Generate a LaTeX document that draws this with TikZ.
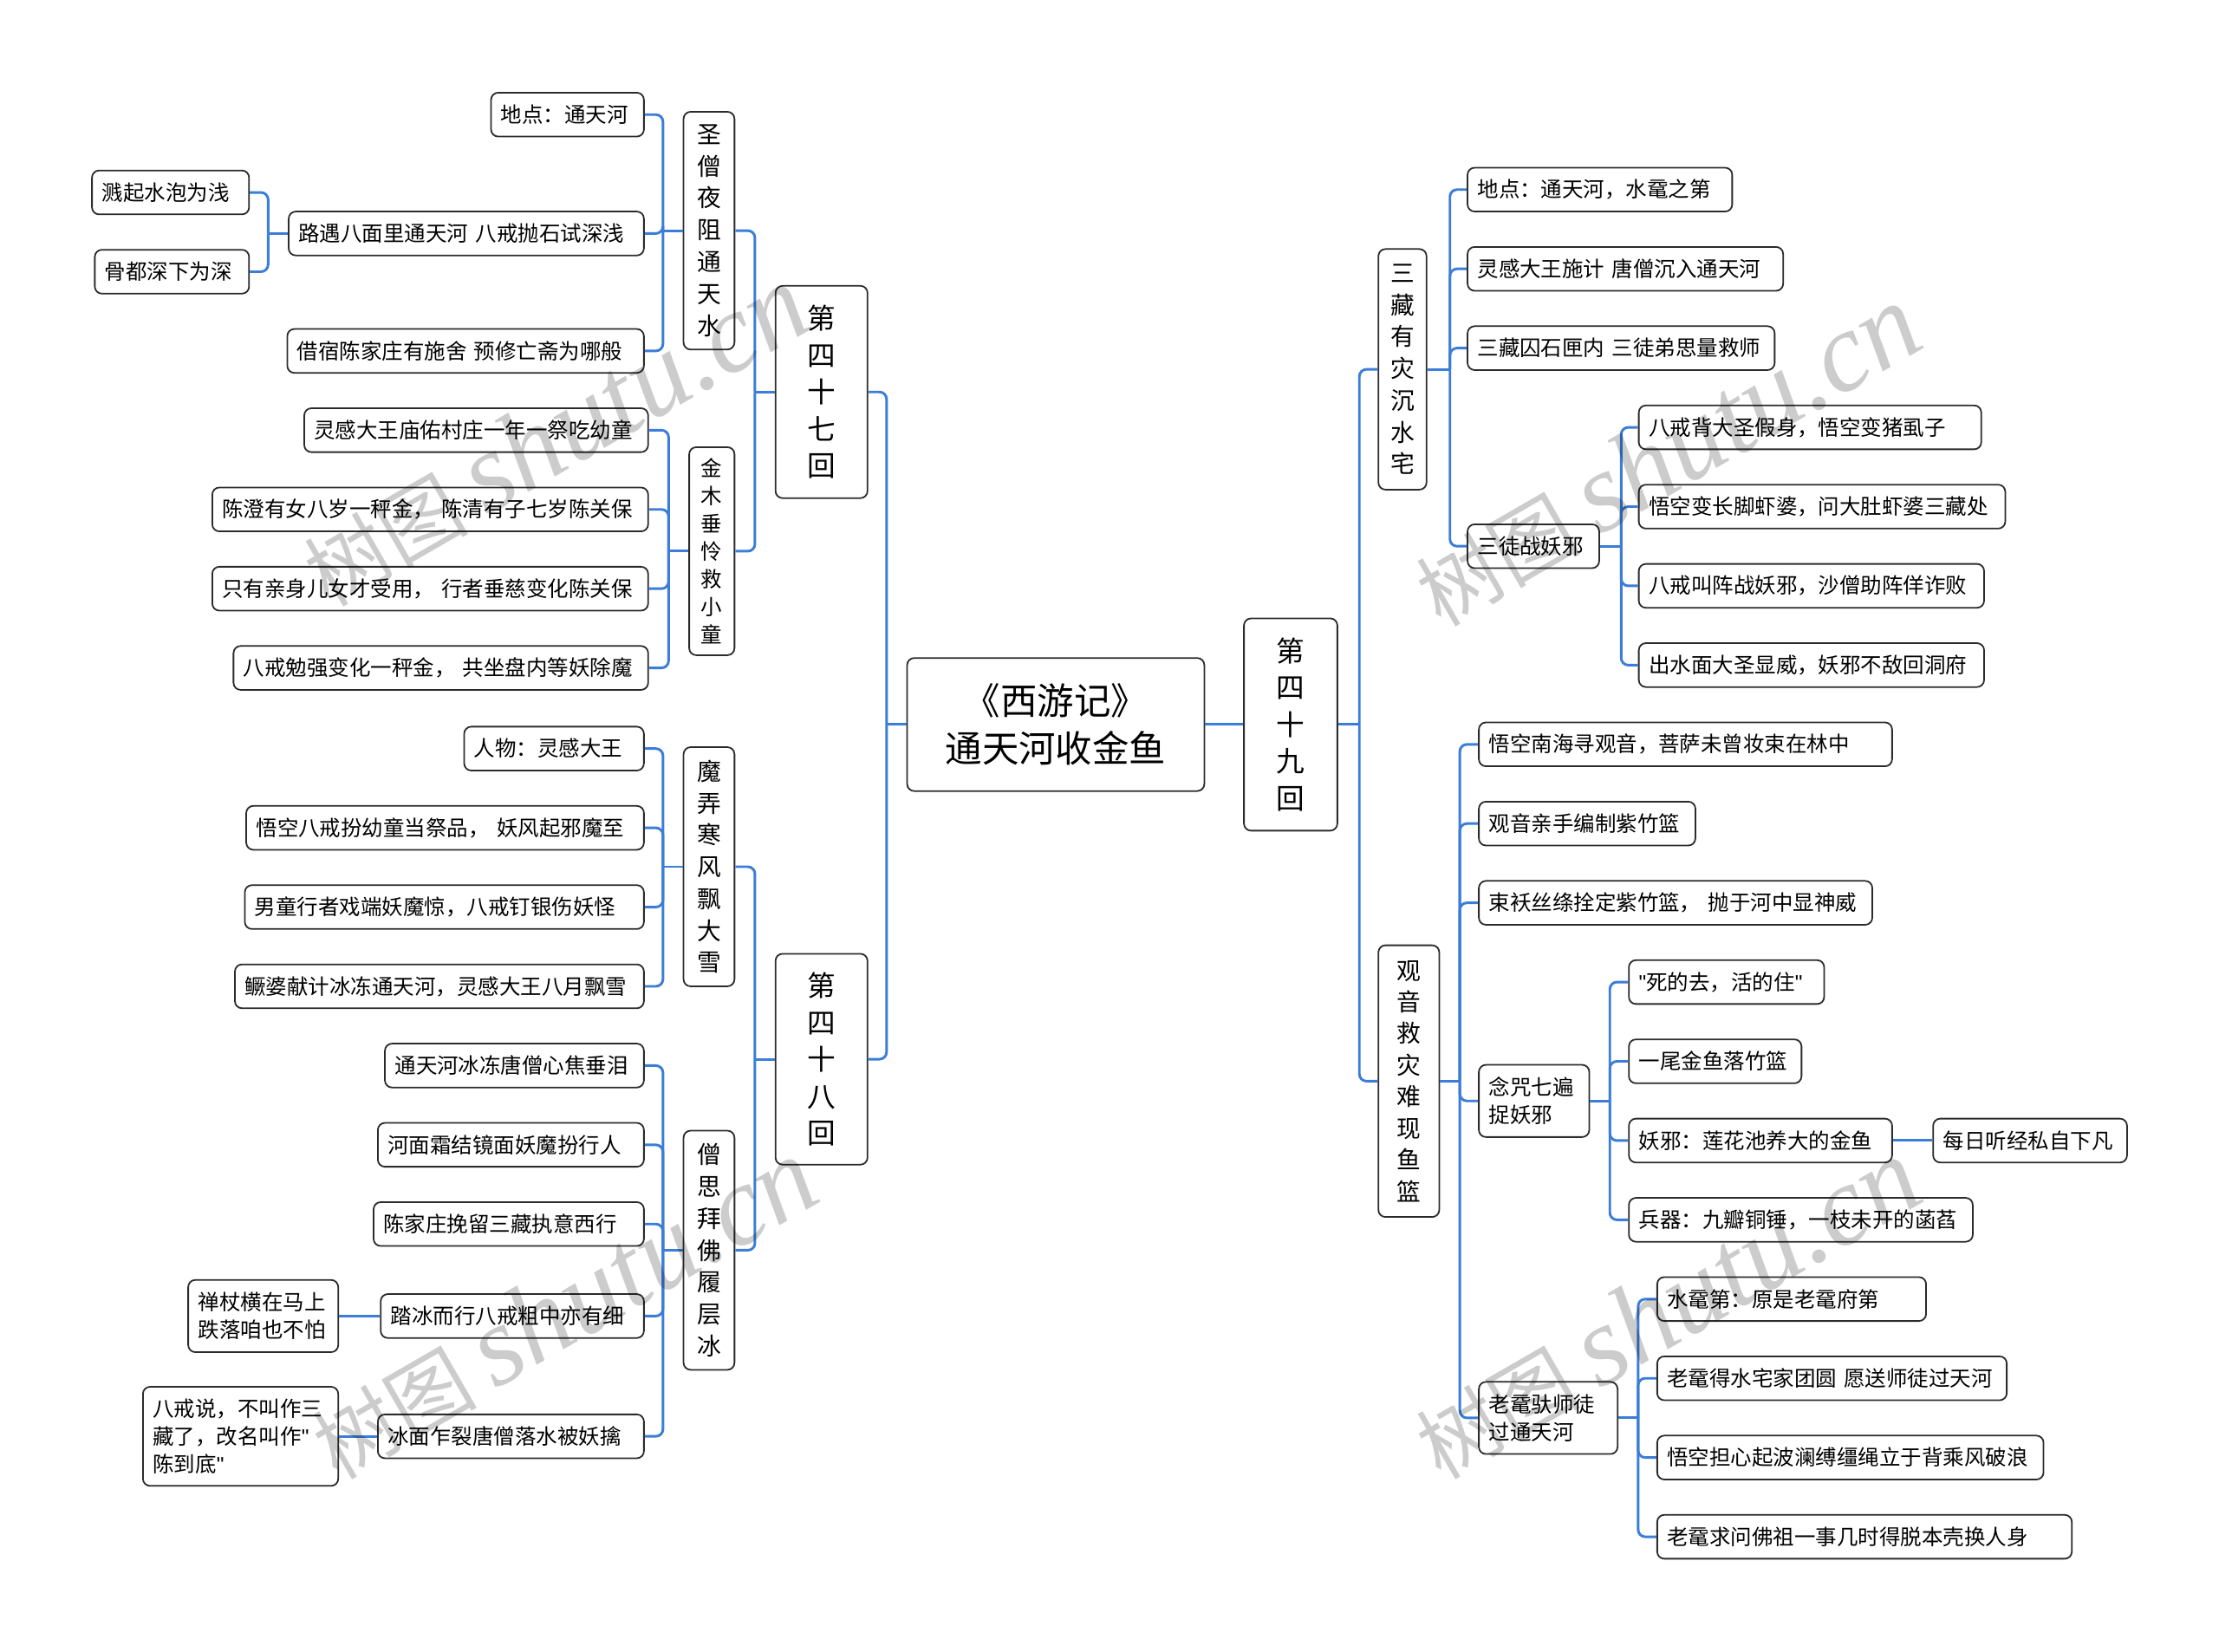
\documentclass[tikz,border=0pt]{standalone}
\usepackage{fontspec}
\setmainfont{Noto Sans CJK SC}
\newfontfamily\wmfont{Liberation Serif}
\newfontfamily\qf{Liberation Sans}
\newcommand\qq{{\qf"}}
\definecolor{lc}{HTML}{3B7DD8}
\definecolor{bc}{HTML}{2B2B2B}
\newcommand\bx[6][]{%
  \pgfmathsetmacro\bxw{#4-#3-14}%
  \pgfmathsetmacro\bxx{(#3+#4)/2}%
  \node[box,text width=\bxw pt,#1] (#2) at (\bxx,#5) {#6};}
\newcommand\vbx[8]{%
  \pgfmathsetmacro\vw{#3-#2}\pgfmathsetmacro\vh{#5-#4}%
  \pgfmathsetmacro\vx{(#2+#3)/2}\pgfmathsetmacro\vy{(#4+#5)/2}%
  \node[vbox,minimum width=\vw pt,minimum height=\vh pt,font=\fontsize{#6}{#7}\selectfont] (#1) at (\vx,\vy) {#8};}
\begin{document}
\begin{tikzpicture}[x=1pt,y=-1pt,
  box/.style={draw=bc,fill=white,line width=1.1pt,rounded corners=5pt,inner xsep=7pt,inner ysep=0pt,minimum height=31pt,align=left,font=\fontsize{15}{19.5}\selectfont},
  vbox/.style={draw=bc,fill=white,line width=1.1pt,rounded corners=5pt,inner sep=0pt,align=center},
  conn/.style={draw=lc,line width=1.8pt,rounded corners=5pt},
  wm/.style={text=black,text opacity=0.2,font=\fontsize{58}{58}\selectfont,inner sep=0pt}]
\useasboundingbox (0,0) rectangle (1568,1167);
\fill[white] (0,0) rectangle (1568,1167);

% ---------- nodes ----------
\node[vbox,minimum width=210pt,minimum height=94pt,font=\fontsize{26}{34}\selectfont] (root) at (746,512) {《西游记》\\通天河收金鱼};
\vbx{q47}{548}{613}{202}{352}{20}{26}{第\\四\\十\\七\\回}
\vbx{q48}{548}{613}{674}{823}{20}{26}{第\\四\\十\\八\\回}
\vbx{q49}{879}{945}{437}{587}{20}{26}{第\\四\\十\\九\\回}

\vbx{s1}{483}{519}{79}{247}{17}{22.6}{圣\\僧\\夜\\阻\\通\\天\\水}
\vbx{s2}{487}{519}{316}{463}{15}{19.6}{金\\木\\垂\\怜\\救\\小\\童}
\vbx{s3}{483}{519}{528}{697}{17}{22.5}{魔\\弄\\寒\\风\\飘\\大\\雪}
\vbx{s4}{483}{519}{799}{968}{17}{22.6}{僧\\思\\拜\\佛\\履\\层\\冰}
\vbx{r1}{974}{1008}{176}{346}{17}{22.5}{三\\藏\\有\\灾\\沉\\水\\宅}
\vbx{r2}{974}{1017}{668}{860}{17}{22.3}{观\\音\\救\\灾\\难\\现\\鱼\\篮}

\bx{a1}{347}{455}{81}{地点：通天河}
\bx{a2}{204}{455}{165}{路遇八面里通天河~八戒抛石试深浅}
\bx{a3}{203}{455}{248}{借宿陈家庄有施舍~预修亡斋为哪般}
\bx{aa1}{65}{176}{136}{溅起水泡为浅}
\bx{aa2}{67}{176}{192}{骨都深下为深}

\bx{b1}{215}{458}{304}{灵感大王庙佑村庄一年一祭吃幼童}
\bx{b2}{150}{458}{360}{陈澄有女八岁一秤金，~陈清有子七岁陈关保}
\bx{b3}{150}{458}{416}{只有亲身儿女才受用，~行者垂慈变化陈关保}
\bx{b4}{165}{458}{472}{八戒勉强变化一秤金，~共坐盘内等妖除魔}

\bx{c1}{328}{455}{529}{人物：灵感大王}
\bx{c2}{174}{455}{585}{悟空八戒扮幼童当祭品，~妖风起邪魔至}
\bx{c3}{173}{455}{641}{男童行者戏端妖魔惊，八戒钉银伤妖怪}
\bx{c4}{166}{455}{697}{鳜婆献计冰冻通天河，灵感大王八月飘雪}

\bx{d1}{272}{455}{753}{通天河冰冻唐僧心焦垂泪}
\bx{d2}{267}{455}{809}{河面霜结镜面妖魔扮行人}
\bx{d3}{264}{455}{865}{陈家庄挽留三藏执意西行}
\bx{d4}{269}{455}{930}{踏冰而行八戒粗中亦有细}
\bx{d5}{267}{455}{1015}{冰面乍裂唐僧落水被妖擒}
\bx[minimum height=51pt]{dd4}{133}{239}{930}{禅杖横在马上\\跌落咱也不怕}
\bx[minimum height=70pt]{dd5}{101}{239}{1015}{八戒说，不叫作三\\藏了，改名叫作\qq\\陈到底\qq}

\bx{e1}{1037}{1224}{134}{地点：通天河，水鼋之第}
\bx{e2}{1037}{1260}{190}{灵感大王施计~唐僧沉入通天河}
\bx{e3}{1037}{1254}{246}{三藏囚石匣内~三徒弟思量救师}
\bx{e4}{1037}{1130}{386}{三徒战妖邪}
\bx{f1}{1158}{1400}{302}{八戒背大圣假身，悟空变猪虱子}
\bx{f2}{1158}{1417}{358}{悟空变长脚虾婆，问大肚虾婆三藏处}
\bx{f3}{1158}{1402}{414}{八戒叫阵战妖邪，沙僧助阵佯诈败}
\bx{f4}{1158}{1402}{470}{出水面大圣显威，妖邪不敌回洞府}

\bx{g1}{1045}{1337}{526}{悟空南海寻观音，菩萨未曾妆束在林中}
\bx{g2}{1045}{1198}{582}{观音亲手编制紫竹篮}
\bx{g3}{1045}{1323}{638}{束袄丝绦拴定紫竹篮，~抛于河中显神威}
\bx[minimum height=51pt]{g4}{1045}{1123}{778}{念咒七遍\\捉妖邪}
\bx[minimum height=51pt]{g5}{1045}{1143}{1002}{老鼋驮师徒\\过通天河}
\bx{h1}{1151}{1289}{694}{\qq 死的去，活的住\qq}
\bx{h2}{1151}{1273}{750}{一尾金鱼落竹篮}
\bx{h3}{1151}{1337}{806}{妖邪：莲花池养大的金鱼}
\bx{h4}{1151}{1394}{862}{兵器：九瓣铜锤，一枝未开的菡萏}
\bx{hh3}{1366}{1503}{806}{每日听经私自下凡}
\bx{i1}{1171}{1361}{918}{水鼋第：原是老鼋府第}
\bx{i2}{1171}{1418}{974}{老鼋得水宅家团圆~愿送师徒过天河}
\bx{i3}{1171}{1444}{1030}{悟空担心起波澜缚缰绳立于背乘风破浪}
\bx{i4}{1171}{1464}{1086}{老鼋求问佛祖一事几时得脱本壳换人身}

% ---------- connectors ----------
\draw[conn] (root.east) -- (q49.west);
\draw[conn] (root.west) -- ++(-14,0) coordinate (root-j);
\foreach \c in {q47,q48} \draw[conn] (root-j) |- (\c.east);

\draw[conn] (q47.west) -- ++(-14,0) coordinate (q47-j);
\foreach \c in {s1,s2} \draw[conn] (q47-j) |- (\c.east);
\draw[conn] (s1.west) -- ++(-14,0) coordinate (s1-j);
\foreach \c in {a1,a2,a3} \draw[conn] (s1-j) |- (\c.east);
\draw[conn] (a2.west) -- ++(-14,0) coordinate (a2-j);
\foreach \c in {aa1,aa2} \draw[conn] (a2-j) |- (\c.east);
\draw[conn] (s2.west) -- ++(-14,0) coordinate (s2-j);
\foreach \c in {b1,b2,b3,b4} \draw[conn] (s2-j) |- (\c.east);

\draw[conn] (q48.west) -- ++(-14,0) coordinate (q48-j);
\foreach \c in {s3,s4} \draw[conn] (q48-j) |- (\c.east);
\draw[conn] (s3.west) -- ++(-14,0) coordinate (s3-j);
\foreach \c in {c1,c2,c3,c4} \draw[conn] (s3-j) |- (\c.east);
\draw[conn] (s4.west) -- ++(-14,0) coordinate (s4-j);
\foreach \c in {d1,d2,d3,d4,d5} \draw[conn] (s4-j) |- (\c.east);
\draw[conn] (d4.west) -- (dd4.east);
\draw[conn] (d5.west) -- (dd5.east);

\draw[conn] (q49.east) -- ++(15,0) coordinate (q49-j);
\foreach \c in {r1,r2} \draw[conn] (q49-j) |- (\c.west);
\draw[conn] (r1.east) -- ++(16,0) coordinate (r1-j);
\foreach \c in {e1,e2,e3,e4} \draw[conn] (r1-j) |- (\c.west);
\draw[conn] (e4.east) -- ++(15,0) coordinate (e4-j);
\foreach \c in {f1,f2,f3,f4} \draw[conn] (e4-j) |- (\c.west);
\draw[conn] (r2.east) -- ++(14,0) coordinate (r2-j);
\foreach \c in {g1,g2,g3,g4,g5} \draw[conn] (r2-j) |- (\c.west);
\draw[conn] (g4.east) -- ++(14,0) coordinate (g4-j);
\foreach \c in {h1,h2,h3,h4} \draw[conn] (g4-j) |- (\c.west);
\draw[conn] (h3.east) -- (hh3.west);
\draw[conn] (g5.east) -- ++(14,0) coordinate (g5-j);
\foreach \c in {i1,i2,i3,i4} \draw[conn] (g5-j) |- (\c.west);

% ---------- watermarks ----------
\node[wm,rotate=30] (wm1) at (392,308) {树图 {\wmfont\itshape\fontsize{80}{80}\selectfont shutu.cn}};
\node[wm,rotate=30] (wm2) at (398,925) {树图 {\wmfont\itshape\fontsize{80}{80}\selectfont shutu.cn}};
\node[wm,rotate=30] (wm3) at (1178,322) {树图 {\wmfont\itshape\fontsize{80}{80}\selectfont shutu.cn}};
\node[wm,rotate=30] (wm4) at (1178,925) {树图 {\wmfont\itshape\fontsize{80}{80}\selectfont shutu.cn}};
\end{tikzpicture}
\end{document}
